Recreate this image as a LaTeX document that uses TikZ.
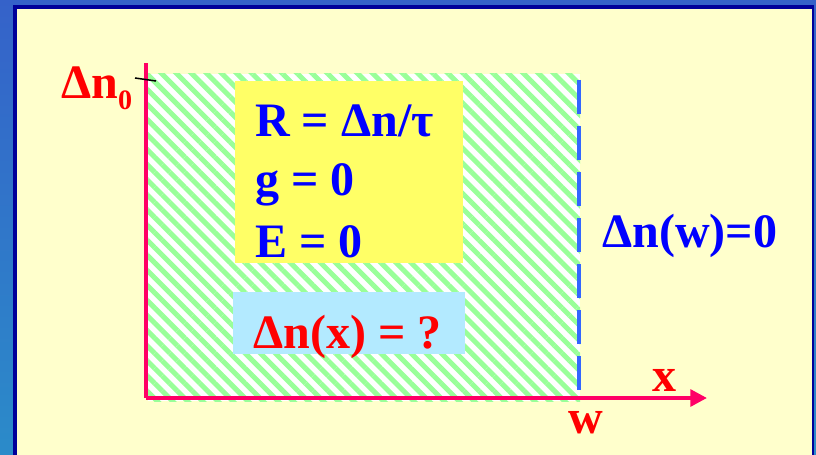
\documentclass[tikz,border=0pt]{standalone}
\usepackage{fontspec}
\setmainfont{Liberation Serif}
\usetikzlibrary{arrows.meta,patterns.meta}

\definecolor{framebluetop}{HTML}{3562C9}
\definecolor{framebluebot}{HTML}{2B8BC9}
\definecolor{framenavy}{HTML}{000099}
\definecolor{panelyellow}{HTML}{FFFFCC}
\definecolor{axispink}{HTML}{FF0066}
\definecolor{hatchgreen}{HTML}{99FF99}
\definecolor{edgeblue}{HTML}{3366FF}
\definecolor{condyellow}{HTML}{FFFF66}
\definecolor{quescyan}{HTML}{B3EAFF}
\definecolor{textblue}{HTML}{0000FF}
\definecolor{textred}{HTML}{FF0000}

\begin{document}
\begin{tikzpicture}[
    x=0.03cm, y=-0.03cm,
    axis/.style={line width=0.12cm, draw=axispink},
    edgeline/.style={line width=0.12cm, draw=edgeblue,
        dash pattern=on 1.02cm off 0.36cm},
    condbox/.style={draw=none, fill=condyellow, minimum width=6.84cm,
        minimum height=5.46cm, inner sep=0pt},
    quesbox/.style={draw=none, fill=quescyan, minimum width=6.96cm,
        minimum height=1.86cm, inner sep=0pt},
    bigtext/.style={inner sep=0pt, anchor=base west,
        font=\fontsize{41}{49}\selectfont\bfseries},
    bluetext/.style={bigtext, text=textblue},
    redtext/.style={bigtext, text=textred}
]
\useasboundingbox (0,0) rectangle (816,455);

%------------------------------------------------
% Rahmen und Hintergrund
%------------------------------------------------
\shade[top color=framebluetop, bottom color=framebluebot]
    (0,0) rectangle (816,455);
\fill[framenavy] (13,5) rectangle (814,460);
\fill[panelyellow] (17,9) rectangle (812,460);

%------------------------------------------------
% schraffierter Bereich
%------------------------------------------------
\fill[white] (148,74) rectangle (580,401);
\fill[pattern={Lines[angle=-45, distance=0.32cm, line width=0.15cm]},
    pattern color=hatchgreen] (148,74) rectangle (580,401);

\node[condbox] (cond) at (349,172) {};
\node[quesbox] (ques) at (349,323) {};

%------------------------------------------------
% Achsen
%------------------------------------------------
\coordinate (origin) at (146,398);
\coordinate (ytop)   at (146,63);
\coordinate (xtip)   at (707,398);
\coordinate (wtop)   at (579,80);
\coordinate (wbot)   at (579,390);
\coordinate (tickl)  at (135,78);
\coordinate (tickr)  at (156,81);

\draw[axis] (origin) -- (ytop);
\draw[axis, -{Triangle[length=0.5cm, width=0.5cm]}] (origin) -- (xtip);
\draw[edgeline] (wtop) -- (wbot);
\draw[black, line width=1.3pt] (tickl) -- (tickr);

%------------------------------------------------
% Beschriftungen
%------------------------------------------------
\node[bluetext] (rate) at (255,137) {R = Δn/τ};
\node[bluetext] (gen)  at (255,196) {g = 0};
\node[bluetext] (field) at (255,257) {E = 0};
\node[redtext] (unknown) at (253,348) {Δn(x) = ?};
\node[bluetext] (bound) at (602,247) {Δn(w)=0};

\node[redtext] (dn0) at (61,99)
    {Δn\raisebox{-9pt}{\fontsize{24}{28}\selectfont 0}};
\node[redtext] (xlab) at (652,391) {x};
\node[redtext] (wlab) at (568,433) {w};

\end{tikzpicture}
\end{document}
